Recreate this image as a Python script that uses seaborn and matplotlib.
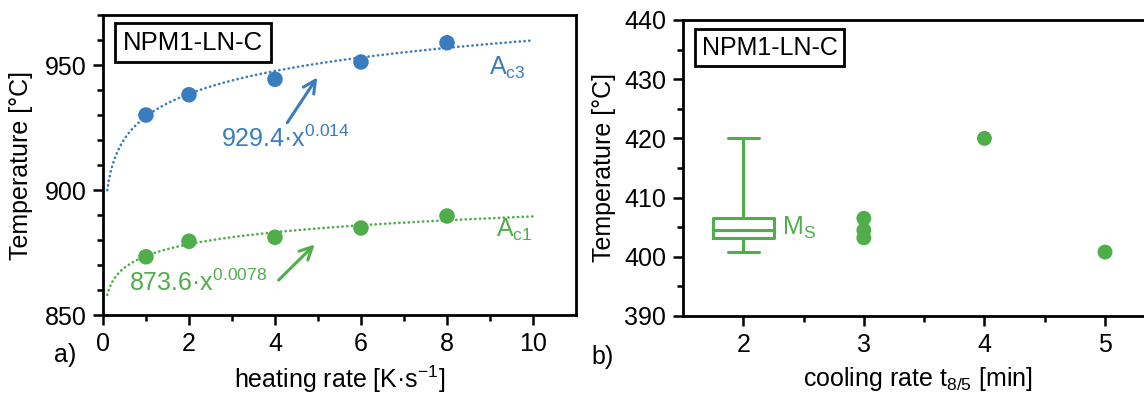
import numpy as np
import matplotlib
matplotlib.use("Agg")
import matplotlib.pyplot as plt
import seaborn as sns

# heating (left panel)
heat_rate = [1, 2, 4, 6, 8]
ac3 = [930.0, 938.1, 944.3, 951.2, 958.9]
ac1 = [873.3, 879.5, 881.1, 884.8, 889.6]
# fit coefficients as printed in the chart: a * x^b
ac3_fit = (929.4, 0.014)
ac1_fit = (873.6, 0.0078)

# cooling (right panel)
cool_time = [3, 3, 3, 4, 5]
ms = [406.5, 404.5, 403.2, 420.0, 400.8]

blue = "#3a7dbf"
green = "#4fae4a"

sns.set_style("ticks")
plt.rcParams["font.family"] = ["Liberation Sans", "DejaVu Sans"]
plt.rcParams["mathtext.fontset"] = "custom"
plt.rcParams["mathtext.rm"] = "Liberation Sans"
plt.rcParams["mathtext.it"] = "Liberation Sans:italic"
plt.rcParams["mathtext.default"] = "regular"
plt.rcParams["font.size"] = 18
plt.rcParams["axes.linewidth"] = 2
for key in ["text.color", "axes.labelcolor", "xtick.color", "ytick.color",
            "xtick.labelcolor", "ytick.labelcolor", "axes.edgecolor"]:
    plt.rcParams[key] = "black"

fig = plt.figure(figsize=(11.44, 3.94), dpi=100)
ax1 = fig.add_axes([0.0900, 0.2005, 0.4135, 0.7614])
ax2 = fig.add_axes([0.5970, 0.1980, 0.4111, 0.7513])


def style_axis(ax):
    ax.tick_params(axis="both", which="major", length=7, width=1.8, direction="out",
                   labelsize=18, pad=5, color="black", labelcolor="black")
    ax.tick_params(axis="both", which="minor", length=4, width=1.8, direction="out",
                   color="black")
    for s in ax.spines.values():
        s.set_linewidth(2)
        s.set_color("black")


# ---- left panel ----
xfit = np.linspace(0.1, 10, 300)
ax1.plot(xfit, ac3_fit[0] * xfit ** ac3_fit[1], color=blue, lw=1.9,
         linestyle=(0, (0.1, 1.7)), dash_capstyle="round")
ax1.plot(xfit, ac1_fit[0] * xfit ** ac1_fit[1], color=green, lw=1.9,
         linestyle=(0, (0.1, 1.7)), dash_capstyle="round")
sns.scatterplot(x=heat_rate, y=ac3, ax=ax1, color=blue, s=125, edgecolor="none", zorder=3)
sns.scatterplot(x=heat_rate, y=ac1, ax=ax1, color=green, s=125, edgecolor="none", zorder=3)

ax1.set_xlim(0, 11)
ax1.set_ylim(850, 970)
ax1.set_xticks([0, 2, 4, 6, 8, 10])
ax1.set_xticks([1, 3, 5, 7, 9], minor=True)
ax1.set_yticks([850, 900, 950])
ax1.set_yticks(np.arange(860, 971, 10), minor=True)
style_axis(ax1)
ax1.set_xlabel("heating rate [K·s$^{\\mathdefault{-1}}$]".replace("\\mathdefault", "\\mathrm"),
               fontsize=18, labelpad=6)
ax1.set_ylabel("Temperature [°C]", fontsize=18, labelpad=8)

ax1.annotate("", xy=(5.02, 946), xytext=(4.25, 926),
             arrowprops=dict(arrowstyle="->,head_length=0.5,head_width=0.25", color=blue, lw=2.2))
ax1.annotate("", xy=(4.97, 879), xytext=(4.04, 863.2),
             arrowprops=dict(arrowstyle="->,head_length=0.5,head_width=0.25", color=green, lw=2.2))
ax1.text(2.75, 920.5, r"929.4·x$^{0.014}$", color=blue, fontsize=18, ha="left", va="center")
ax1.text(0.61, 863.0, r"873.6·x$^{0.0078}$", color=green, fontsize=18, ha="left", va="center")
ax1.text(8.98, 949, r"A$_{c3}$", color=blue, fontsize=18, ha="left", va="center")
ax1.text(9.14, 884, r"A$_{c1}$", color=green, fontsize=18, ha="left", va="center")
ax1.text(0.19, 0.908, "NPM1-LN-C", transform=ax1.transAxes, fontsize=18.5,
         ha="center", va="center",
         bbox=dict(boxstyle="square,pad=0.3", fc="white", ec="black", lw=2))

# ---- right panel ----
sns.boxplot(x=[2] * len(ms), y=ms, ax=ax2, native_scale=True, whis=(0, 100),
            fill=False, color=green, width=0.51, linewidth=2.2, zorder=3)
sns.scatterplot(x=cool_time, y=ms, ax=ax2, color=green, s=115, edgecolor="none", zorder=3)

ax2.set_xlim(1.5, 5.4)
ax2.set_ylim(390, 440)
ax2.set_xticks([2, 3, 4, 5])
ax2.set_xticklabels(["2", "3", "4", "5"])
ax2.set_xticks([2.5, 3.5, 4.5], minor=True)
ax2.set_yticks(np.arange(390, 441, 10))
ax2.set_yticks(np.arange(395, 440, 10), minor=True)
style_axis(ax2)
ax2.set_xlabel(r"cooling rate t$_{8/5}$ [min]", fontsize=18, labelpad=6)
ax2.set_ylabel("Temperature [°C]", fontsize=18, labelpad=6)
ax2.text(2.32, 404.9, r"M$_{S}$", color=green, fontsize=18, ha="left", va="center")
ax2.text(0.184, 0.907, "NPM1-LN-C", transform=ax2.transAxes, fontsize=18,
         ha="center", va="center",
         bbox=dict(boxstyle="square,pad=0.25", fc="white", ec="black", lw=2))

fig.text(65 / 1144, 1 - 355 / 394, "a)", fontsize=18, ha="center", va="center")
fig.text(603 / 1144, 1 - 357 / 394, "b)", fontsize=18, ha="center", va="center")

fig.savefig("out.png", dpi=100)
